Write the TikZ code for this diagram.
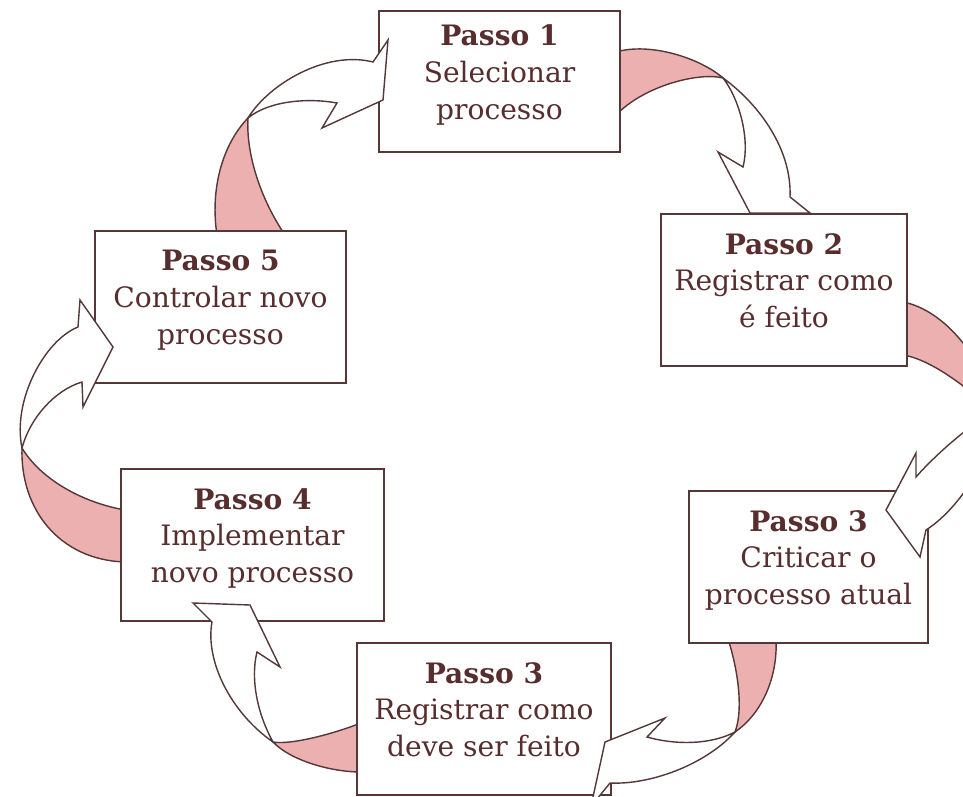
\documentclass[tikz,border=0pt]{standalone}
\usepackage{fontspec}
\setmainfont{DejaVu Serif}
\usepackage{tikz}
\definecolor{ribbon}{RGB}{236,176,176}
\definecolor{rim}{RGB}{85,55,55}
\definecolor{ink}{RGB}{88,45,45}

\begin{document}
\begin{tikzpicture}[x=0.02cm, y=-0.02cm,
    passo/.style={draw=rim, line width=1.1pt, fill=white, align=center, text=ink,
        font=\fontsize{16}{21}\selectfont, inner sep=0pt, text depth=0.38cm},
    back/.style={fill=ribbon, draw=rim, line width=0.8pt},
    front/.style={fill=white, draw=rim, line width=0.8pt}]
            \useasboundingbox (0,0) rectangle (963,797);
            \clip (0,0) rectangle (963,797);
            \filldraw[back] (217,235) .. controls (210,190) and (222,145) .. (248,118)
                .. controls (246,150) and (258,195) .. (285,235) -- cycle;
            \filldraw[back] (616,52) .. controls (650,42) and (700,58) .. (723,78)
                .. controls (700,72) and (645,85) .. (616,115) -- cycle;
            \filldraw[back] (903,302) .. controls (945,310) and (985,360) .. (995,412)
                .. controls (975,395) and (935,360) .. (903,355) -- cycle;
            \filldraw[back] (776,639) .. controls (778,680) and (760,715) .. (735,732)
                .. controls (745,705) and (735,660) .. (728,639) -- cycle;
            \filldraw[back] (361,723) .. controls (330,735) and (290,745) .. (273,742)
                .. controls (290,760) and (330,772) .. (361,772) -- cycle;
            \filldraw[back] (125,510) .. controls (80,502) and (40,478) .. (22,448)
                .. controls (20,510) and (60,560) .. (125,562) -- cycle;
            \node[passo, minimum width=4.82cm, minimum height=2.82cm] (p1) at (499.5,81.5)
                {\textbf{Passo 1}\\Selecionar\\processo};
            \node[passo, minimum width=4.92cm, minimum height=3.04cm] (p2) at (784,290)
                {\textbf{Passo 2}\\Registrar como\\é feito};
            \node[passo, minimum width=4.78cm, minimum height=3.04cm] (p3) at (808.5,567)
                {\textbf{Passo 3}\\Criticar o\\processo atual};
            \node[passo, minimum width=5.08cm, minimum height=3.04cm] (p3b) at (484,719)
                {\textbf{Passo 3}\\Registrar como\\deve ser feito};
            \node[passo, minimum width=5.26cm, minimum height=3.04cm] (p4) at (252.5,545)
                {\textbf{Passo 4}\\Implementar\\novo processo};
            \node[passo, minimum width=5.02cm, minimum height=3.04cm] (p5) at (220.5,307)
                {\textbf{Passo 5}\\Controlar novo\\processo};
            \filldraw[front] (248,118) .. controls (268,85) and (325,50) .. (373,62)
                -- (388,40) -- (383,100) -- (322,128) -- (337,103)
                .. controls (310,98) and (270,100) .. (248,118) -- cycle;
            \filldraw[front] (723,78) .. controls (760,105) and (792,150) .. (790,197)
                -- (810,213) -- (750,213) -- (718,152) -- (743,167)
                .. controls (750,140) and (740,100) .. (723,78) -- cycle;
            \filldraw[front] (995,412) .. controls (975,420) and (935,455) .. (916,477)
                -- (916,453) -- (886,510) -- (920,557) -- (926,530)
                .. controls (950,515) and (990,470) .. (995,412) -- cycle;
            \filldraw[front] (735,732) .. controls (705,765) and (650,785) .. (610,783)
                -- (588,810) -- (593,797) -- (605,742) -- (665,718) -- (647,737)
                .. controls (675,745) and (710,745) .. (735,732) -- cycle;
            \filldraw[front] (273,742) .. controls (230,712) and (205,660) .. (212,622)
                -- (193,603) -- (250,605) -- (280,667) -- (257,652)
                .. controls (250,680) and (258,715) .. (273,742) -- cycle;
            \filldraw[front] (22,448) .. controls (12,400) and (45,340) .. (78,327)
                -- (80,300) -- (113,347) -- (83,407) -- (82,382)
                .. controls (55,390) and (30,418) .. (22,448) -- cycle;
\end{tikzpicture}
\end{document}
